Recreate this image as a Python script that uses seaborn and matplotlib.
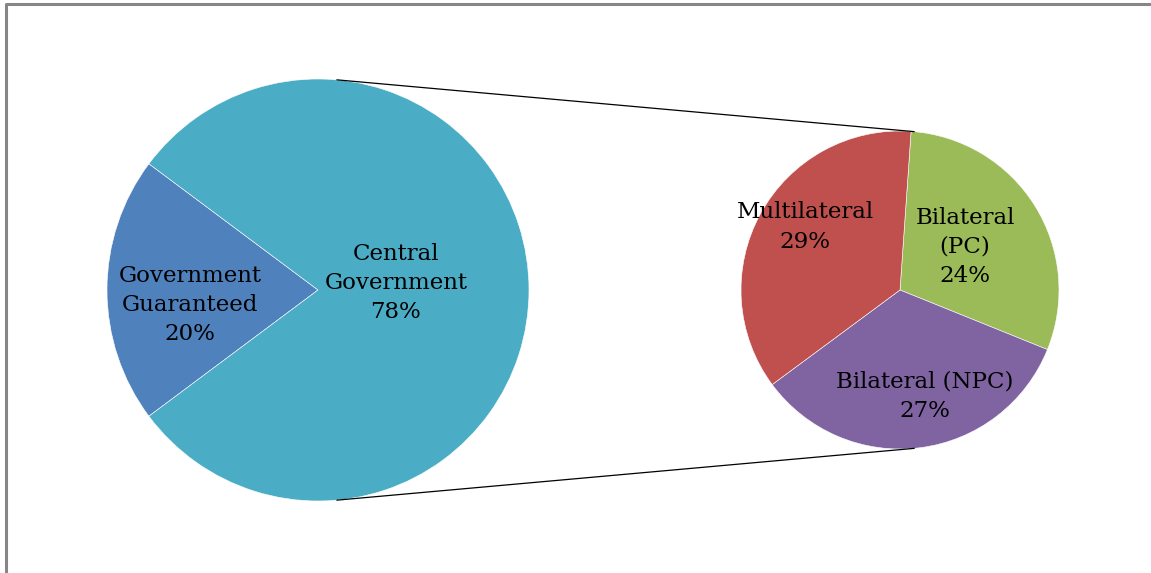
import numpy as np
import matplotlib
matplotlib.use('Agg')
import matplotlib.pyplot as plt
import seaborn as sns

sns.set_style('white')
plt.rcParams['font.family'] = ['DejaVu Serif']

# main pie
main_labels = ['Government\nGuaranteed', 'Central\nGovernment']
main_values = [20, 78]
main_pct = ['20%', '78%']
main_colors = ['#4F81BD', '#4BACC6']

# breakdown pie (central government)
sub_labels = ['Bilateral\n(PC)', 'Bilateral (NPC)', 'Multilateral']
sub_values = [24, 27, 29]
sub_pct = ['24%', '27%', '29%']
sub_colors = ['#9BBB59', '#8064A2', '#C0504D']

W, H = 1151, 573
fig = plt.figure(figsize=(W / 100, H / 100), dpi=100)
ax = fig.add_axes([0, 0, 1, 1])

c1, r1 = (318, 283), 211
c2, r2 = (900, 283), 159

gg_span = main_values[0] / sum(main_values) * 360
ax.pie(main_values, colors=main_colors, center=c1, radius=r1,
       startangle=180 - gg_span / 2, counterclock=True,
       wedgeprops=dict(edgecolor='white', linewidth=0.4), frame=True)
ax.pie(sub_values, colors=sub_colors, center=c2, radius=r2,
       startangle=86, counterclock=False,
       wedgeprops=dict(edgecolor='white', linewidth=0.4), frame=True)
ax.set_xlim(0, W)
ax.set_ylim(0, H)
ax.set_aspect('equal')
ax.axis('off')

# connector lines = outer common tangents of the two circles
d = c2[0] - c1[0]
th = np.arccos((r1 - r2) / d)
for s in (1, -1):
    p1 = (c1[0] + r1 * np.cos(th), c1[1] + s * r1 * np.sin(th))
    p2 = (c2[0] + r2 * np.cos(th), c2[1] + s * r2 * np.sin(th))
    ax.plot([p1[0], p2[0]], [p1[1], p2[1]], color='black', lw=0.9)

fs = 16.5
ls = 1.42
kw = dict(ha='center', va='center', fontsize=fs, linespacing=ls, color='black')
ax.text(190, H - 305, main_labels[0] + '\n' + main_pct[0], **kw)
ax.text(396, H - 283, main_labels[1] + '\n' + main_pct[1], **kw)
ax.text(965, H - 247, sub_labels[0] + '\n' + sub_pct[0], **kw)
ax.text(925, H - 396, sub_labels[1] + '\n' + sub_pct[1], **kw)
ax.text(805, H - 227, sub_labels[2] + '\n' + sub_pct[2], **kw)

# outer chart border (only top and left visible)
ax.plot([6, 6, W + 10], [-10, H - 4, H - 4], color='#868686', lw=2.2,
        clip_on=False)

fig.savefig('out.png', dpi=100)
